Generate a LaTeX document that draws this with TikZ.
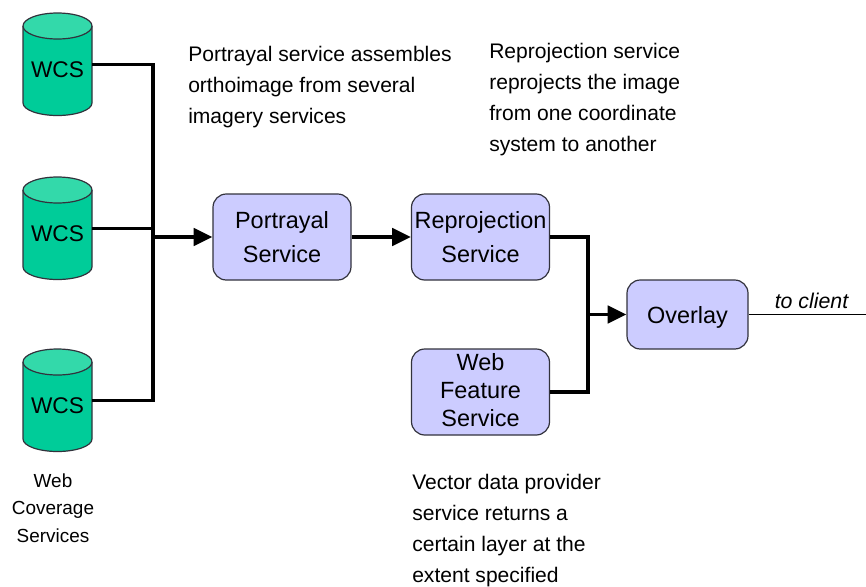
\documentclass[tikz,border=0pt]{standalone}
\usepackage{fontspec}
\setmainfont{Liberation Sans}
\usetikzlibrary{arrows.meta}
\definecolor{wcsgreen}{RGB}{0,204,153}
\definecolor{wcstop}{RGB}{51,217,170}
\definecolor{svcblue}{RGB}{204,204,255}
\definecolor{edgegray}{RGB}{50,50,60}
\tikzset{
  cyl/.style={draw=edgegray,line width=.9pt,line join=round},
  wcs/.style={minimum width=51.75pt,minimum height=77.25pt,inner sep=0pt},
  wcstext/.style={inner sep=0pt,font=\fontsize{17}{17}\selectfont},
  svc/.style={draw=edgegray,line width=.9pt,fill=svcblue,rounded corners=10pt,minimum width=103.5pt,minimum height=64.5pt,inner sep=0pt,align=center,font=\fontsize{17.6}{25.5}\selectfont},
  note/.style={anchor=north west,align=left,inner sep=0pt,font=\fontsize{15.8}{23.2}\selectfont},
  bus/.style={line width=2.6pt},
  feed/.style={line width=2.6pt,-{Triangle[length=14pt,width=13pt]}}
}
\begin{document}
\begin{tikzpicture}[x=.75pt,y=-.75pt]
 	  \useasboundingbox (0,0) rectangle (866,586);
 	  \foreach \n/\y in {W1/64.5,W2/228.5,W3/400.5} {
 	    \draw [cyl,fill=wcsgreen] (23,\y-38.5) -- (23,\y+38.5) arc[start angle=180,end angle=0,x radius=34.5,y radius=12.5] -- (92,\y-38.5);
 	    \draw [cyl,fill=wcstop] (57.5,\y-38.5) ellipse [x radius=34.5,y radius=13];
 	    \node (\n) [wcs] at (57.5,\y) {};
 	    \node (\n t) [wcstext] at (57.5,\y+5) {WCS};
 	  }
 	  \node (P) [svc] at (282,237) {Portrayal\\Service};
 	  \node (R) [svc] at (480.5,237) {Reprojection\\Service};
 	  \node (F) [svc,text depth=3.5pt,font=\fontsize{17.6}{21}\selectfont] at (480.5,392) {Web\\Feature\\Service};
 	  \node (O) [svc,text height=17pt,minimum width=90.75pt,minimum height=51.75pt] at (687.5,314.5) {Overlay};
 	  \coordinate (J1) at (153,237);
 	  \coordinate (J2) at (588,314.5);
 	  \coordinate (out) at (866,314.5);
 	  \node (lblW) [align=center,inner sep=0pt,font=\fontsize{14.2}{20.5}\selectfont] at (53,508) {Web\\Coverage\\Services};
 	  \node (lblP) [note] at (188,46) {Portrayal service assembles\\orthoimage from several\\imagery services};
 	  \node (lblR) [note] at (489,43) {Reprojection service\\reprojects the image\\from one coordinate\\system to another};
 	  \node (lblF) [note] at (412,474) {Vector data provider\\service returns a\\certain layer at the\\extent specified};
 	  \node (lblC) [inner sep=0pt,font=\fontsize{16}{16}\selectfont\itshape] at (811.5,301) {to client};
 	  \draw [bus] (W1.east) -| (J1) |- (W3.east);
 	  \draw [bus] (W2.east) -- (W2 -| J1);
 	  \draw [feed] (J1) -- (P);
 	  \draw [feed] (P) -- (R);
 	  \draw [bus] (R) -| (J2) |- (F);
 	  \draw [feed] (J2) -- (O);
 	  \draw [line width=.9pt] (O) -- (out);
 	\end{tikzpicture}
\end{document}
